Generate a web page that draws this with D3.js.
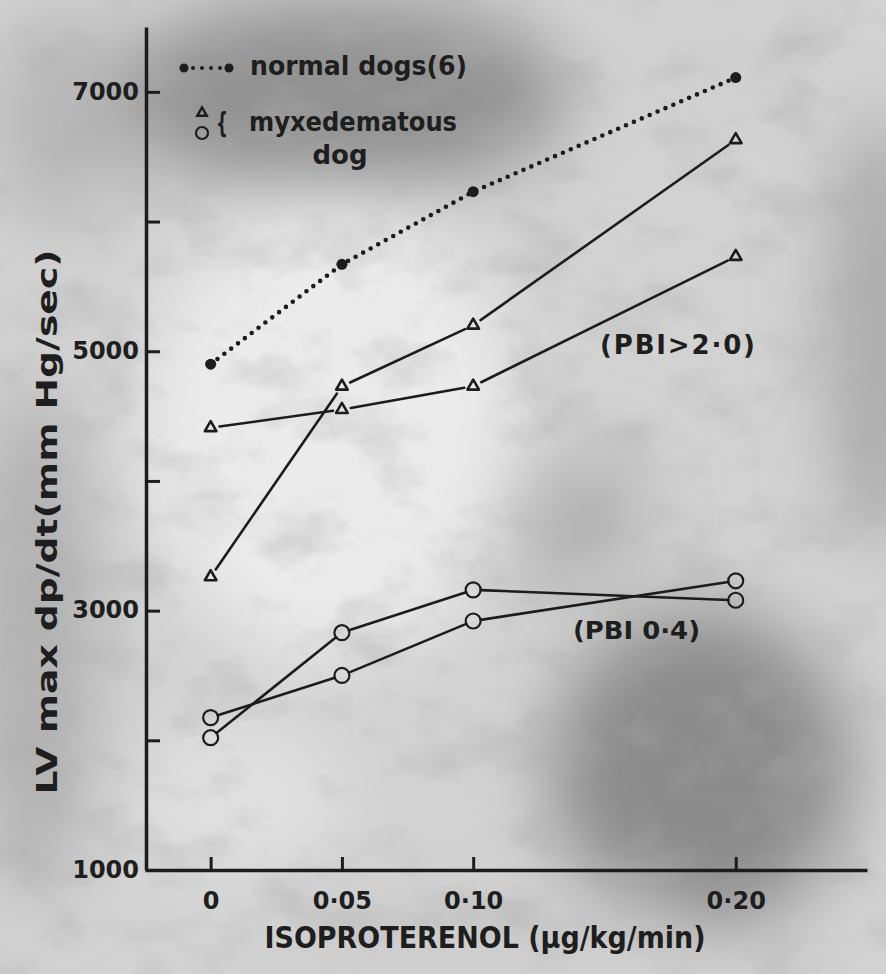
<!DOCTYPE html>
<html>
<head>
<meta charset="utf-8">
<script src="https://cdn.jsdelivr.net/npm/d3@7"></script>
<style>
  html, body { margin: 0; padding: 0; background: #d4d4d4; }
  svg { display: block; }
  text { font-family: "DejaVu Sans", sans-serif; font-weight: bold; fill: #1e1e1e; }
</style>
</head>
<body>
<svg id="chart" width="886" height="974"></svg>
<script>
// Isoproterenol dose (µg/kg/min) and tick labels
const doses = [0, 0.05, 0.10, 0.20];
const doseLabels = ["0", "0·05", "0·10", "0·20"];

// LV max dp/dt (mm Hg/sec)
const normalDogs = [4900, 5670, 6230, 7110];
const pbiHighA = [3260, 4730, 5200, 6630];
const pbiHighB = [4410, 4550, 4730, 5730];
const pbiLowA = [2020, 2830, 3160, 3080];
const pbiLowB = [2175, 2500, 2920, 3230];

const yTickValues = [1000, 2000, 3000, 4000, 5000, 6000, 7000];
const yTickLabels = ["1000", "", "3000", "", "5000", "", "7000"];

const svg = d3.select("#chart");
const W = 886, H = 974;

// ---- paper / photographic backdrop ----
const defs = svg.append("defs");
const soft = defs.append("filter").attr("id", "soft")
  .attr("x", "-50%").attr("y", "-50%").attr("width", "200%").attr("height", "200%");
soft.append("feGaussianBlur").attr("stdDeviation", 36);

const grain = defs.append("filter").attr("id", "grain")
  .attr("x", 0).attr("y", 0).attr("width", "100%").attr("height", "100%");
grain.append("feTurbulence").attr("type", "fractalNoise")
  .attr("baseFrequency", "0.012 0.018").attr("numOctaves", 4).attr("seed", 7);
grain.append("feColorMatrix").attr("type", "matrix")
  .attr("values", "0 0 0 0 0.42  0 0 0 0 0.42  0 0 0 0 0.42  -1.8 0 0 0 0.95");

svg.append("rect").attr("width", W).attr("height", H).attr("fill", "#d2d2d2");

const shades = [
  { cx: 340, cy: 95, rx: 230, ry: 95, c: "#929292" },
  { cx: 60, cy: 120, rx: 70, ry: 110, c: "#b8b8b8" },
  { cx: 700, cy: 770, rx: 150, ry: 160, c: "#8c8c8c" },
  { cx: 880, cy: 330, rx: 50, ry: 220, c: "#a8a8a8" },
  { cx: 35, cy: 640, rx: 60, ry: 260, c: "#b0b0b0" },
  { cx: 560, cy: 520, rx: 90, ry: 70, c: "#b4b4b4" },
  { cx: 330, cy: 430, rx: 190, ry: 230, c: "#ebebeb" },
  { cx: 240, cy: 800, rx: 110, ry: 80, c: "#e0e0e0" },
  { cx: 720, cy: 60, rx: 120, ry: 60, c: "#cfcfcf" },
  { cx: 470, cy: 930, rx: 220, ry: 50, c: "#cdcdcd" }
];
svg.append("g").attr("filter", "url(#soft)")
  .selectAll("ellipse").data(shades).join("ellipse")
  .attr("cx", d => d.cx).attr("cy", d => d.cy)
  .attr("rx", d => d.rx).attr("ry", d => d.ry)
  .attr("fill", d => d.c);
svg.append("rect").attr("width", W).attr("height", H)
  .attr("filter", "url(#grain)").attr("opacity", 0.6);

// ---- scales ----
const x = d3.scaleLinear().domain([-0.025, 0.25]).range([145, 867]);
const y = d3.scaleLinear().domain([1000, 7500]).range([870, 27]);

const ink = "#1c1c1c";

// ---- axes ----
const yAxis = d3.axisLeft(y)
  .tickValues(yTickValues)
  .tickFormat((d, i) => yTickLabels[i])
  .tickSizeInner(-14).tickSizeOuter(0).tickPadding(7);
const gy = svg.append("g").attr("transform", "translate(146,0)").call(yAxis);
gy.select(".domain").attr("stroke", ink).attr("stroke-width", 3.5);
gy.selectAll(".tick line").attr("stroke", ink).attr("stroke-width", 3);
gy.selectAll(".tick text").attr("font-size", 24).attr("dy", "0.3em")
  .attr("font-family", "DejaVu Sans").attr("fill", ink);

const xAxis = d3.axisBottom(x)
  .tickValues(doses)
  .tickFormat((d, i) => doseLabels[i])
  .tickSizeInner(-13).tickSizeOuter(0).tickPadding(22);
const gx = svg.append("g").attr("transform", "translate(0,870)").call(xAxis);
gx.select(".domain").attr("stroke", ink).attr("stroke-width", 3.5);
gx.selectAll(".tick line").attr("stroke", ink).attr("stroke-width", 3);
gx.selectAll(".tick text").attr("font-size", 24)
  .attr("font-family", "DejaVu Sans").attr("fill", ink);

// axis titles
svg.append("text")
  .attr("x", 485).attr("y", 948)
  .attr("text-anchor", "middle")
  .attr("font-size", 31)
  .attr("textLength", 441).attr("lengthAdjust", "spacingAndGlyphs")
  .text("ISOPROTERENOL (µg/kg/min)");

svg.append("text")
  .attr("transform", "translate(57,522) rotate(-90)")
  .attr("text-anchor", "middle")
  .attr("font-size", 29)
  .attr("textLength", 545).attr("lengthAdjust", "spacingAndGlyphs")
  .text("LV max dp/dt(mm Hg/sec)");

// ---- series ----
const pts = vals => vals.map((v, i) => [x(doses[i]), y(v)]);

// segments trimmed at each end so the open markers stay clear
function trimmedSegments(p, gap) {
  const segs = [];
  for (let i = 0; i < p.length - 1; i++) {
    const [x0, y0] = p[i], [x1, y1] = p[i + 1];
    const dx = x1 - x0, dy = y1 - y0, L = Math.hypot(dx, dy);
    const ux = dx / L, uy = dy / L;
    segs.push([x0 + ux * gap, y0 + uy * gap, x1 - ux * gap, y1 - uy * gap]);
  }
  return segs;
}

function drawSolid(vals, gap) {
  svg.append("g").selectAll("line")
    .data(trimmedSegments(pts(vals), gap)).join("line")
    .attr("x1", d => d[0]).attr("y1", d => d[1])
    .attr("x2", d => d[2]).attr("y2", d => d[3])
    .attr("stroke", ink).attr("stroke-width", 2.6)
    .attr("stroke-linecap", "round");
}

const tri = d3.symbol().type(d3.symbolTriangle).size(58);
function drawTriangles(vals) {
  svg.append("g").selectAll("path")
    .data(pts(vals)).join("path")
    .attr("transform", d => `translate(${d[0]},${d[1]})`)
    .attr("d", tri)
    .attr("fill", "none").attr("stroke", ink).attr("stroke-width", 2.6)
    .attr("stroke-linejoin", "round");
}
function drawCircles(vals) {
  svg.append("g").selectAll("circle")
    .data(pts(vals)).join("circle")
    .attr("cx", d => d[0]).attr("cy", d => d[1]).attr("r", 7.5)
    .attr("fill", "none").attr("stroke", ink).attr("stroke-width", 2.2);
}

// normal dogs: dotted line with filled points
svg.append("path")
  .datum(pts(normalDogs))
  .attr("d", d3.line())
  .attr("fill", "none").attr("stroke", ink)
  .attr("stroke-width", 4.6).attr("stroke-linecap", "round")
  .attr("stroke-dasharray", "0 8.6");
svg.append("g").selectAll("circle")
  .data(pts(normalDogs)).join("circle")
  .attr("cx", d => d[0]).attr("cy", d => d[1]).attr("r", 5.5)
  .attr("fill", ink);

// myxedematous dog, PBI > 2.0 (triangles)
drawSolid(pbiHighA, 9);
drawSolid(pbiHighB, 9);
drawTriangles(pbiHighA);
drawTriangles(pbiHighB);

// myxedematous dog, PBI 0.4 (circles)
drawSolid(pbiLowA, 7.5);
drawSolid(pbiLowB, 7.5);
drawCircles(pbiLowA);
drawCircles(pbiLowB);

// ---- annotations ----
svg.append("text").attr("x", 600).attr("y", 354)
  .attr("font-size", 26)
  .attr("textLength", 155).attr("lengthAdjust", "spacing")
  .text("(PBI>2·0)");
svg.append("text").attr("x", 573).attr("y", 639)
  .attr("font-size", 25)
  .attr("textLength", 127).attr("lengthAdjust", "spacingAndGlyphs")
  .text("(PBI 0·4)");

// ---- legend ----
const leg = svg.append("g");
leg.append("line").attr("x1", 184).attr("y1", 68).attr("x2", 229).attr("y2", 68)
  .attr("stroke", ink).attr("stroke-width", 4).attr("stroke-linecap", "round")
  .attr("stroke-dasharray", "0 9");
leg.selectAll("circle.end").data([184, 229]).join("circle")
  .attr("class", "end").attr("cx", d => d).attr("cy", 68).attr("r", 4.5).attr("fill", ink);
leg.append("text").attr("x", 250).attr("y", 75).attr("font-size", 26)
  .attr("textLength", 217).attr("lengthAdjust", "spacingAndGlyphs")
  .text("normal dogs(6)");

leg.append("path").attr("transform", "translate(202,113)")
  .attr("d", d3.symbol().type(d3.symbolTriangle).size(40))
  .attr("fill", "none").attr("stroke", ink).attr("stroke-width", 2.4);
leg.append("circle").attr("cx", 202).attr("cy", 133).attr("r", 6)
  .attr("fill", "none").attr("stroke", ink).attr("stroke-width", 2.2);
leg.append("text").attr("x", 222).attr("y", 133)
  .attr("text-anchor", "middle")
  .attr("font-size", 28).attr("font-weight", "normal")
  .attr("transform", "translate(222,123) scale(0.6,1) translate(-222,-123)")
  .text("{");
leg.append("text").attr("x", 249).attr("y", 131).attr("font-size", 26)
  .attr("textLength", 208).attr("lengthAdjust", "spacingAndGlyphs")
  .text("myxedematous");
leg.append("text").attr("x", 340).attr("y", 164).attr("font-size", 26)
  .attr("text-anchor", "middle")
  .text("dog");
</script>
</body>
</html>
